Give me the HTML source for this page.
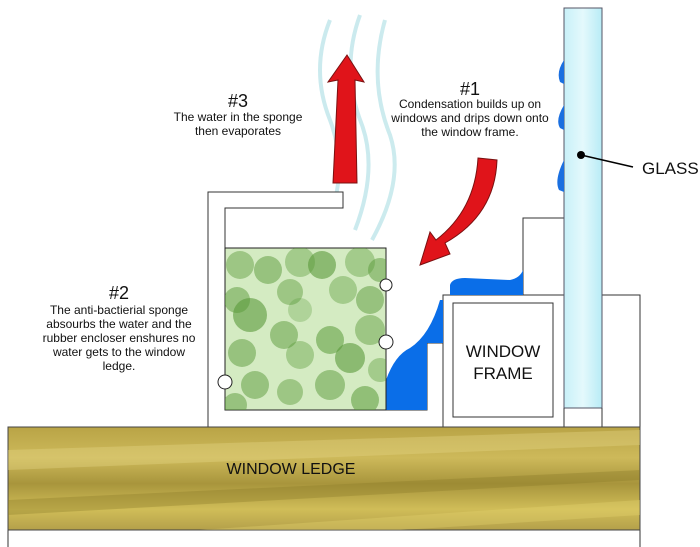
<!DOCTYPE html>
<html><head><style>html,body{margin:0;padding:0;background:#fff}svg{display:block}text{font-family:"Liberation Sans",sans-serif;fill:#111}</style></head>
<body>
<svg width="700" height="547" viewBox="0 0 700 547" xmlns="http://www.w3.org/2000/svg">
<defs>
<linearGradient id="gl" x1="0" x2="1"><stop offset="0" stop-color="#c8f0f8"/><stop offset="0.5" stop-color="#e4f9fc"/><stop offset="1" stop-color="#b8ecf6"/></linearGradient>
<linearGradient id="ld" x1="0" y1="0" x2="0" y2="1"><stop offset="0" stop-color="#b9a446"/><stop offset="0.3" stop-color="#cdb95a"/><stop offset="0.55" stop-color="#a8953c"/><stop offset="0.8" stop-color="#d0bd58"/><stop offset="1" stop-color="#b4a04a"/></linearGradient>
<clipPath id="sp"><rect x="225" y="248" width="161" height="162"/></clipPath>
</defs>
<g fill="none" stroke="#bfe6ea" stroke-width="4" opacity="0.8">
<path d="M330 20 Q310 70 330 120 Q345 160 335 200"/>
<path d="M360 15 Q340 70 362 125 Q378 170 355 230"/>
<path d="M385 20 Q368 80 390 135 Q405 180 372 240"/>
</g>
<line x1="8" y1="530" x2="8" y2="547" stroke="#333"/>
<line x1="640" y1="530" x2="640" y2="547" stroke="#333"/>
<rect x="443" y="295" width="197" height="132" fill="#fff" stroke="#333"/>
<rect x="523" y="218" width="41" height="77" fill="#fff" stroke="#333"/>
<path d="M450 295 L450 285 Q452 278 465 278 L510 280 Q520 278 523 270 L523 295 Z" fill="#0a6ee8"/>
<rect x="453" y="303" width="100" height="114" fill="#fff" stroke="#333"/>
<text x="503" y="357" font-size="17" text-anchor="middle">WINDOW</text>
<text x="503" y="379" font-size="17" text-anchor="middle">FRAME</text>
<rect x="564" y="8" width="38" height="400" fill="url(#gl)" stroke="#556"/>
<line x1="564" y1="408" x2="564" y2="427" stroke="#333"/><line x1="602" y1="408" x2="602" y2="427" stroke="#333"/>
<path d="M564 60 Q556 72 560 82 L564 84 Z M564 105 Q555 120 560 128 L564 130Z M564 160 Q554 180 559 190 L564 192Z" fill="#1a6fe0"/>
<circle cx="581" cy="155" r="4" fill="#000"/>
<line x1="581" y1="155" x2="633" y2="167" stroke="#000" stroke-width="1.5"/>
<text x="642" y="174" font-size="17">GLASS</text>
<path d="M208 192 L343 192 L343 208 L225 208 L225 410 L427 410 L427 343 L443 343 L443 427 L208 427 Z" fill="#fff" stroke="#333"/>
<path d="M386 410 L386 380 Q395 355 410 348 Q430 335 440 300 L443 300 L443 343 L427 343 L427 410 Z" fill="#0a6ee8"/>
<rect x="225" y="248" width="161" height="162" fill="#d4ebc2" stroke="#222"/>
<g clip-path="url(#sp)" fill="#5a9a3a" >
<circle cx="240" cy="265" r="14" opacity=".45"/><circle cx="268" cy="270" r="14" opacity=".5"/><circle cx="300" cy="262" r="15" opacity=".4"/><circle cx="322" cy="265" r="14" opacity=".6"/><circle cx="360" cy="262" r="15" opacity=".4"/><circle cx="380" cy="270" r="12" opacity=".5"/>
<circle cx="237" cy="300" r="13" opacity=".5"/><circle cx="290" cy="292" r="13" opacity=".45"/><circle cx="343" cy="290" r="14" opacity=".4"/><circle cx="370" cy="300" r="14" opacity=".5"/><circle cx="250" cy="315" r="17" opacity=".6"/>
<circle cx="284" cy="335" r="14" opacity=".5"/><circle cx="330" cy="340" r="14" opacity=".55"/><circle cx="370" cy="330" r="15" opacity=".45"/><circle cx="300" cy="310" r="12" opacity=".3"/>
<circle cx="242" cy="353" r="14" opacity=".5"/><circle cx="300" cy="355" r="14" opacity=".4"/><circle cx="350" cy="358" r="15" opacity=".6"/><circle cx="380" cy="370" r="12" opacity=".4"/>
<circle cx="255" cy="385" r="14" opacity=".5"/><circle cx="290" cy="392" r="13" opacity=".45"/><circle cx="330" cy="385" r="15" opacity=".5"/><circle cx="365" cy="400" r="14" opacity=".55"/><circle cx="235" cy="405" r="12" opacity=".5"/>
</g>
<circle cx="386" cy="285" r="6" fill="#fff" stroke="#222"/><circle cx="386" cy="342" r="7" fill="#fff" stroke="#222"/><circle cx="225" cy="382" r="7" fill="#fff" stroke="#222"/>
<path d="M333 183 L338 80 L328 82 L347 55 L364 82 L355 80 L357 183 Z" fill="#e0141a" stroke="#7a1010"/>
<path d="M478 158 L497 160 Q495 215 445 243 L450 254 L420 265 L430 232 L436 240 Q475 210 478 158 Z" fill="#e0141a" stroke="#7a1010"/>
<rect x="8" y="427" width="632" height="103" fill="url(#ld)" stroke="#444"/>
<g opacity=".35">
<path d="M8 450 L640 430 L640 445 L8 470Z" fill="#e8d98a"/>
<path d="M8 500 L640 470 L640 480 L8 515Z" fill="#8a7a28"/>
<path d="M200 530 L640 500 L640 515 L400 530Z" fill="#e6d570"/>
</g>
<text x="291" y="474" font-size="16" text-anchor="middle">WINDOW LEDGE</text>
<g text-anchor="middle">
<text x="238" y="107" font-size="18">#3</text>
<text x="238" y="121" font-size="12">The water in the sponge</text>
<text x="238" y="135" font-size="12">then evaporates</text>
<text x="470" y="95" font-size="18">#1</text>
<text x="470" y="108" font-size="12">Condensation builds up on</text>
<text x="470" y="122" font-size="12">windows and drips down onto</text>
<text x="470" y="136" font-size="12">the window frame.</text>
<text x="119" y="299" font-size="18">#2</text>
<text x="119" y="314" font-size="12">The anti-bactierial sponge</text>
<text x="119" y="328" font-size="12">absourbs the water and the</text>
<text x="119" y="342" font-size="12">rubber encloser enshures no</text>
<text x="119" y="356" font-size="12">water gets to the window</text>
<text x="119" y="370" font-size="12">ledge.</text>
</g>
</svg>
</body></html>
